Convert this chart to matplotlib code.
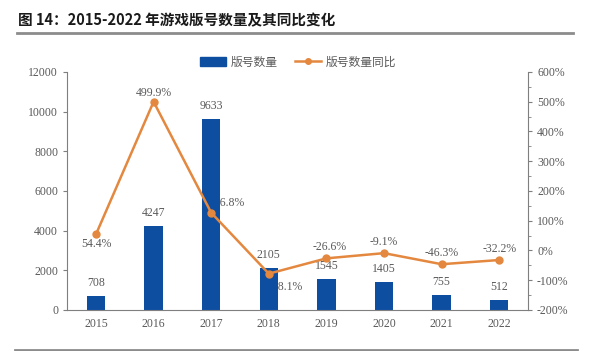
import matplotlib.pyplot as plt
from matplotlib.lines import Line2D
from matplotlib.patches import Patch
from matplotlib.ticker import MultipleLocator, FuncFormatter

years = ['2015', '2016', '2017', '2018', '2019', '2020', '2021', '2022']
counts = [708, 4247, 9633, 2105, 1545, 1405, 755, 512]
yoy = [54.4, 499.9, 126.8, -78.1, -26.6, -9.1, -46.3, -32.2]

blue = '#0D4EA1'
orange = '#E4883F'
grey = '#595959'
serif = ['Liberation Serif', 'DejaVu Serif']
cjk = ['Noto Sans CJK SC', 'DejaVu Sans']

fig = plt.figure(figsize=(6.0, 3.51), dpi=100)
ax1 = fig.add_axes([0.112, 0.117, 0.768, 0.678])
ax2 = ax1.twinx()

x = list(range(len(years)))

# percentage labels go under the bars, as in the source where the bars hide part of them
yoy_pos = [(0, -3, 'top'), (0, 2, 'bottom'), (11.5, 2.5, 'bottom'), (12, -5, 'top'),
           (2, 3.5, 'bottom'), (0, 3.5, 'bottom'), (0, 3.5, 'bottom'), (0, 3.5, 'bottom')]
for i, v in enumerate(yoy):
    dx, dy, va = yoy_pos[i]
    ax1.annotate(f'{v:.1f}%', xy=(i, v), xycoords=ax2.transData,
                 xytext=(dx, dy), textcoords='offset points',
                 ha='center', va=va, fontsize=8.5, color=grey,
                 family=serif, zorder=1)

ax1.bar(x, counts, width=0.32, color=blue, zorder=2)
for i, c in enumerate(counts):
    ax1.annotate(str(c), xy=(i, c), xytext=(0, 5), textcoords='offset points',
                 ha='center', va='bottom', fontsize=8.5, color=grey, family=serif)

ax2.plot(x, yoy, color=orange, lw=1.8, marker='o', ms=5)

ax1.set_xlim(-0.5, 7.5)
ax1.set_ylim(0, 12000)
ax1.yaxis.set_major_locator(MultipleLocator(2000))
ax2.set_ylim(-200, 600)
ax2.yaxis.set_major_locator(MultipleLocator(100))
ax2.yaxis.set_minor_locator(MultipleLocator(50))
ax2.yaxis.set_major_formatter(FuncFormatter(lambda v, p: f'{v:.0f}%'))

ax1.set_xticks(x)
ax1.set_xticklabels(years)
for ax in (ax1, ax2):
    ax.spines['top'].set_visible(False)
    for s in ('left', 'right', 'bottom'):
        ax.spines[s].set_color('#7F7F7F')
    ax.tick_params(colors='#7F7F7F', labelcolor=grey, labelsize=8.5, length=3)
    ax.tick_params(which='minor', colors='#7F7F7F', length=2)
    for lab in ax.get_xticklabels() + ax.get_yticklabels():
        lab.set_family(serif)
ax1.spines['right'].set_visible(False)
ax2.spines['left'].set_visible(False)
ax2.spines['bottom'].set_visible(False)
ax1.tick_params(axis='x', length=0, pad=6)

handles = [Patch(color=blue),
           Line2D([], [], color=orange, lw=1.8, marker='o', ms=4)]
fig.legend(handles, ['版号数量', '版号数量同比'], loc='center',
           bbox_to_anchor=(0.497, 0.823), ncol=2, frameon=False,
           prop={'family': cjk, 'size': 8.5}, labelcolor=grey,
           handlelength=2.2, columnspacing=1.5, handletextpad=0.4)

fig.text(0.03, 0.943, '图 14：2015-2022 年游戏版号数量及其同比变化',
         fontsize=10.5, fontweight='bold', color='#1A1A1A', va='center',
         family=cjk)
fig.add_artist(Line2D([0.028, 0.955], [0.906, 0.906], color='#8C8C8C', lw=2))
fig.add_artist(Line2D([0.025, 0.962], [0.004, 0.004], color='#8C8C8C', lw=2))

fig.savefig('out.png', dpi=100)
